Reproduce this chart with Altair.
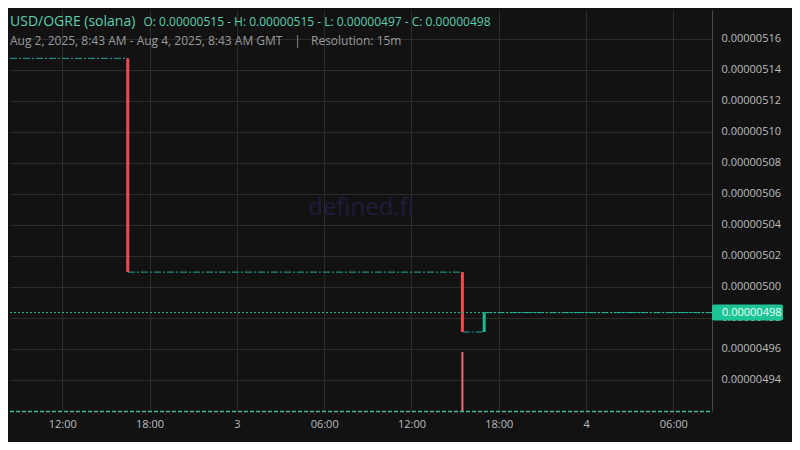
import altair as alt
import pandas as pd

# ---------------- data ----------------
title_text = "USD/OGRE (solana)"
ohlc_text = "O: 0.00000515 - H: 0.00000515 - L: 0.00000497 - C: 0.00000498"
range_text = "Aug 2, 2025, 8:43 AM - Aug 4, 2025, 8:43 AM GMT"
sep_text = "|"
res_text = "Resolution: 15m"
watermark_text = "defined.fi"

# stretches of flat (open == close) 15m candles
flat_start = ["2025-08-02T08:24:25Z", "2025-08-02T16:31:00Z", "2025-08-03T15:31:00Z", "2025-08-03T17:01:00Z"]
flat_end = ["2025-08-02T16:29:00Z", "2025-08-03T15:29:00Z", "2025-08-03T16:59:00Z", "2025-08-04T08:39:20Z"]
flat_price = [0.0000051475, 0.0000050096, 0.000004971, 0.0000049835]

# candles with a visible body
candle_time = ["2025-08-02T16:30:00Z", "2025-08-03T15:30:00Z", "2025-08-03T17:00:00Z"]
candle_open = [0.0000051475, 0.0000050096, 0.000004971]
candle_close = [0.0000050096, 0.000004971, 0.0000049835]

# volume
vol_time = ["2025-08-03T15:30:00Z"]
vol_value = [1.0]

last_price = [0.0000049835]
last_label = ["0.00000498"]

y_ticks = [0.00000494, 0.00000496, 0.00000498, 0.00000500, 0.00000502, 0.00000504,
           0.00000506, 0.00000508, 0.00000510, 0.00000512, 0.00000514, 0.00000516]
y_domain = [0.00000492, 0.0000051787]

x_ticks = [(2, 12), (2, 18), (3, 0), (3, 6), (3, 12), (3, 18), (4, 0), (4, 6)]

# ---------------- styling ----------------
BG = "#121212"
GRID = "#2c2c2c"
RED = "#ef4a4f"
GREEN = "#16b98f"
TEAL = "#22a699"
FONT = "Open Sans"
W, H = 702, 401

flat_df = pd.DataFrame({"start": flat_start, "end": flat_end, "price": flat_price})
candle_df = pd.DataFrame({"t": candle_time, "open": candle_open, "close": candle_close})
candle_df["dir"] = ["up" if c >= o else "down" for o, c in zip(candle_open, candle_close)]
vol_df = pd.DataFrame({"t": vol_time, "v": vol_value})
last_df = pd.DataFrame({"price": last_price, "label": last_label})
one = pd.DataFrame({"k": [0]})

xscale = alt.Scale(
    type="utc",
    domain=[alt.DateTime(year=2025, month=8, date=2, hours=8, minutes=24, seconds=25, utc=True),
            alt.DateTime(year=2025, month=8, date=4, hours=8, minutes=39, seconds=20, utc=True)],
)
xaxis = alt.Axis(
    values=[alt.DateTime(year=2025, month=8, date=d, hours=h, utc=True) for d, h in x_ticks],
    labelExpr="utcFormat(datum.value, '%H:%M') == '00:00' ? utcFormat(datum.value, '%-d') : utcFormat(datum.value, '%H:%M')",
    title=None, domain=False, ticks=False, grid=True, gridColor=GRID,
    labelColor="#bdbdbd", labelFontSize=11, labelFont=FONT, labelPadding=7,
    labelFlush=False, labelOverlap=False, tickCount=20,
)
yscale = alt.Scale(domain=y_domain, zero=False, nice=False)
yaxis = alt.Axis(
    orient="right", values=y_ticks, format=".8f", title=None,
    domain=True, domainColor="#4a4a4a", ticks=False, grid=True, gridColor=GRID,
    labelColor="#bdbdbd", labelFontSize=11, labelFont=FONT, labelPadding=9,
    labelOverlap=False, tickCount=30,
)

flat = alt.Chart(flat_df).mark_rule(color=TEAL, strokeWidth=1, strokeDash=[7, 2, 2, 2]).encode(
    x=alt.X("start:T", scale=xscale, axis=xaxis),
    x2="end:T",
    y=alt.Y("price:Q", scale=yscale, axis=yaxis),
)

candles = alt.Chart(candle_df).mark_rule(strokeWidth=3).encode(
    x=alt.X("t:T", scale=xscale),
    y=alt.Y("open:Q", scale=yscale, title=None),
    y2="close:Q",
    color=alt.Color("dir:N", scale=alt.Scale(domain=["down", "up"], range=[RED, GREEN]), legend=None),
)

price_line = alt.Chart(last_df).mark_rule(color="#1bc290", strokeWidth=1, strokeDash=[2, 2]).encode(
    y=alt.Y("price:Q", scale=yscale, title=None),
)

price_box = alt.Chart(last_df).mark_tick(color="#1dc496", size=71, thickness=16, opacity=1, cornerRadius=2).encode(
    x=alt.value(737.5),
    y=alt.Y("price:Q", scale=yscale, title=None),
)

price_text = alt.Chart(last_df).mark_text(
    align="left", baseline="middle", fontSize=11, font=FONT, color="#effff9"
).encode(
    x=alt.value(712),
    y=alt.Y("price:Q", scale=yscale, title=None),
    text="label:N",
)

price_group = alt.layer(flat, candles, price_line, price_box, price_text)

vol_base = alt.Chart(one).mark_rule(color="#45b89a", strokeWidth=1.5, strokeDash=[4, 2]).encode(
    x=alt.value(0), x2=alt.value(W), y=alt.value(H + 0.5)
)
volume = alt.Chart(vol_df).mark_rule(color="#ec6a78", strokeWidth=2).encode(
    x=alt.X("t:T", scale=xscale),
    y=alt.Y("v:Q", scale=alt.Scale(domain=[0, 6.8]), axis=None),
    y2=alt.datum(0),
)
vol_group = alt.layer(vol_base, volume)


def label(txt, x, y, size, color, align="left"):
    return alt.Chart(one).mark_text(
        text=txt, align=align, baseline="alphabetic", fontSize=size, font=FONT, color=color
    ).encode(x=alt.value(x), y=alt.value(y))


watermark = label(watermark_text, 351, 205, 24, "#1f1d3c", align="center")
t1 = label(title_text, 0, 15.5, 14, "#5ccfae")
t2 = label(ohlc_text, 133.5, 15.5, 12, "#5ccfae")
t3 = label(range_text, 0, 35, 12, "#9a9a9a")
t4 = label(sep_text, 287.5, 35, 12, "#9a9a9a", align="center")
t5 = label(res_text, 301, 35, 12, "#9a9a9a")

chart = alt.layer(
    watermark, vol_group, price_group, t1, t2, t3, t4, t5
).resolve_scale(y="independent").properties(
    width=W, height=H,
    autosize=alt.AutoSizeParams(type="none"),
    padding={"left": 2, "top": 2, "right": 80, "bottom": 31},
).configure(
    background=BG,
).configure_view(stroke=None)

chart.save("out.html", embed_options={"renderer": "svg", "actions": False})
